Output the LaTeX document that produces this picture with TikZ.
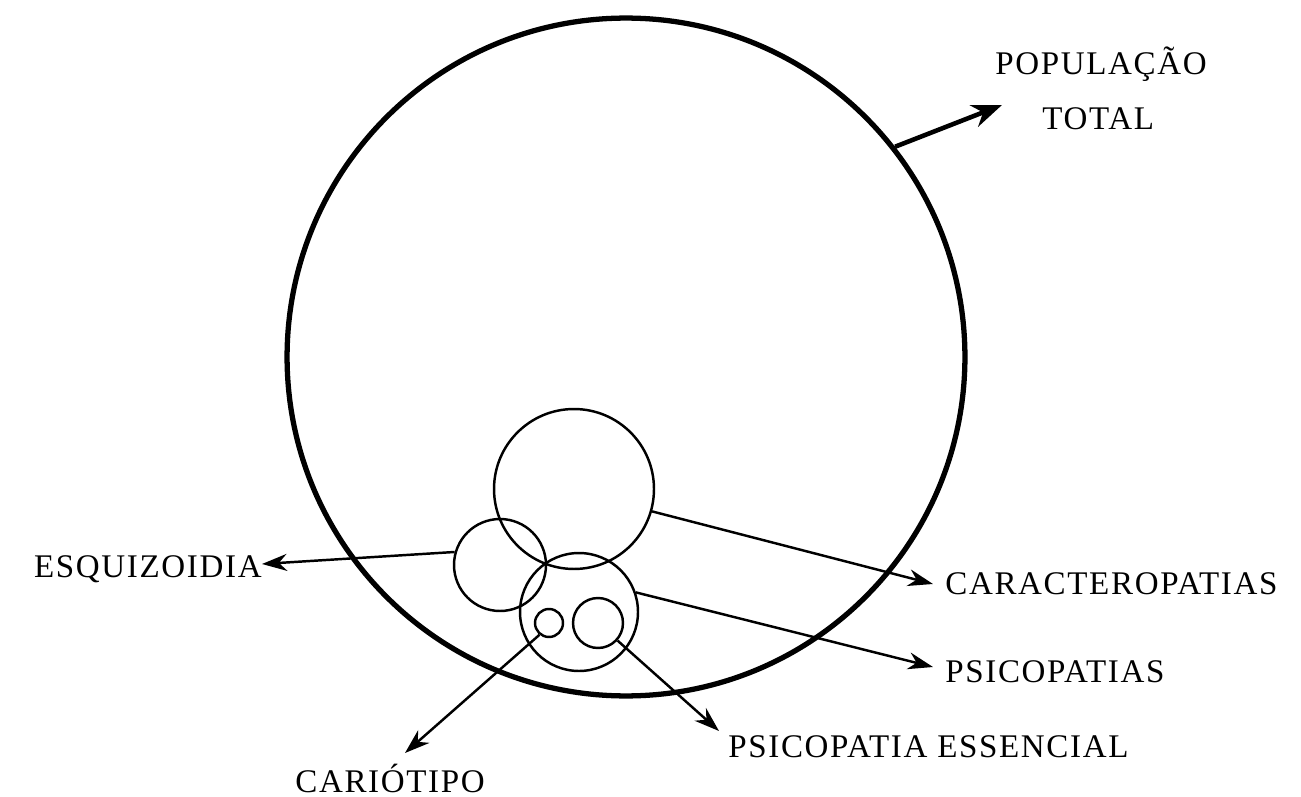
\documentclass[tikz,border=0pt]{standalone}
\usepackage{fontspec}
\setmainfont{Liberation Serif}[LetterSpace=5]
\usetikzlibrary{arrows.meta}

\begin{document}
\begin{tikzpicture}[x=0.02cm, y=-0.02cm,
      set/.style={circle, draw, inner sep=0pt, line width=1.4pt},
      lbl/.style={inner sep=0pt, font=\fontsize{18.8}{22}\selectfont},
      ptr/.style={line width=1.4pt, -{Stealth[length=0.5cm, width=0.34cm]}}]

      \useasboundingbox (0,0) rectangle (1301,797);

      % Conjuntos
      \node[set, line width=3pt, minimum size=13.56cm] (pop) at (626,357) {};
      \node[set, minimum size=3.2cm]  (car) at (574,489) {};
      \node[set, minimum size=1.84cm] (esq) at (500,565) {};
      \node[set, minimum size=2.36cm] (psi) at (579,612) {};
      \node[set, minimum size=0.56cm] (cario) at (549,623) {};
      \node[set, minimum size=1.0cm]  (ess) at (598,623) {};

      % Rotulos
      \node[lbl, anchor=base west] (popl1) at (995,75)  {POPULAÇÃO};
      \node[lbl, anchor=base west] (popl2) at (1042,130) {TOTAL};
      \coordinate (poptip) at (1002,105);
      \node[lbl, anchor=base east] (esql) at (262,577) {ESQUIZOIDIA};
      \node[lbl, anchor=base west] (carl) at (945,594) {CARACTEROPATIAS};
      \node[lbl, anchor=base west] (psil) at (945,682) {PSICOPATIAS};
      \node[lbl, anchor=base west] (essl) at (728,757) {PSICOPATIA ESSENCIAL};
      \node[lbl, anchor=base west] (cariol) at (295,792) {CARIÓTIPO};
      \coordinate (cariotip) at (405,753);
      \coordinate (esstip) at (719,731);

      % Setas
      \draw[ptr, line width=2.6pt, -{Stealth[length=0.6cm, width=0.46cm]}] (pop.38.7) -- (poptip);
      \draw[ptr] (esq.164) -- (esql.east |- 0,564);
      \draw[ptr] (car.-16) -- (933,584);
      \draw[ptr] (psi.19) -- (933,667);
      \draw[ptr] (ess.-42) -- (esstip);
      \draw[ptr] (cario.-129) -- (cariotip);
    \end{tikzpicture}
\end{document}
